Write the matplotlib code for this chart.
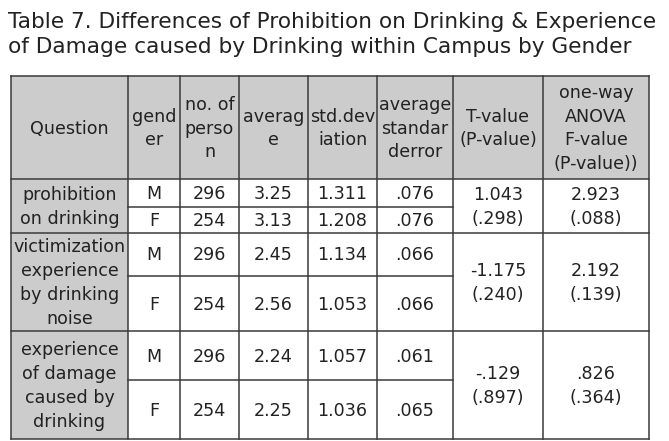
import matplotlib
matplotlib.use("Agg")
import matplotlib.pyplot as plt
from matplotlib.patches import Rectangle

# ---------------- data ----------------
title_lines = ["Table 7. Differences of Prohibition on Drinking & Experience",
               "of Damage caused by Drinking within Campus by Gender"]
headers = ["Question", "gend\ner", "no. of\nperso\nn", "averag\ne", "std.dev\niation",
           "average\nstandar\nderror", "T-value\n(P-value)", "one-way\nANOVA\nF-value\n(P-value))"]
questions = ["prohibition\non drinking",
             "victimization\nexperience\nby drinking\nnoise",
             "experience\nof damage\ncaused by\ndrinking"]
genders = ["M", "F"]
n_person = [["296", "254"], ["296", "254"], ["296", "254"]]
averages = [["3.25", "3.13"], ["2.45", "2.56"], ["2.24", "2.25"]]
std_devs = [["1.311", "1.208"], ["1.134", "1.053"], ["1.057", "1.036"]]
std_errors = [[".076", ".076"], [".066", ".066"], [".061", ".065"]]
t_values = ["1.043", "-1.175", "-.129"]
t_pvalues = [".298", ".240", ".897"]
f_values = ["2.923", "2.192", ".826"]
f_pvalues = [".088", ".139", ".364"]

# ---------------- layout (pixels) ----------------
W, H = 669, 441
col_x = [11, 128, 180, 239, 308, 377, 453, 543, 649]
y_top, y_head = 76, 179
group_y = [(179, 207, 233), (233, 276, 331), (331, 380, 439)]

FONT = ["DejaVu Sans"]
FS = 12.6
LS = 1.42
TXT = "#222222"
LINE = "#3a3a3a"
GRAY = "#cccccc"

fig = plt.figure(figsize=(W / 100, H / 100), dpi=100)
ax = fig.add_axes([0, 0, 1, 1])
ax.set_xlim(0, W)
ax.set_ylim(H, 0)
ax.axis("off")

# title
ax.text(8, 28, title_lines[0], fontsize=15.6, family=FONT, color=TXT, ha="left", va="baseline")
ax.text(8, 53, title_lines[1], fontsize=15.6, family=FONT, color=TXT, ha="left", va="baseline")

def cell_text(x0, x1, y0, y1, s):
    ax.text((x0 + x1) / 2, (y0 + y1) / 2 + 1, s, fontsize=FS, family=FONT, color=TXT,
            ha="center", va="center", linespacing=LS, multialignment="center")

# backgrounds
ax.add_patch(Rectangle((col_x[0], y_top), col_x[-1] - col_x[0], y_head - y_top,
                       facecolor=GRAY, edgecolor="none"))
ax.add_patch(Rectangle((col_x[0], y_head), col_x[1] - col_x[0], group_y[-1][2] - y_head,
                       facecolor=GRAY, edgecolor="none"))

# header
for i, h in enumerate(headers):
    cell_text(col_x[i], col_x[i + 1], y_top, y_head, h)

# body
for g, (ya, ym, yb) in enumerate(group_y):
    cell_text(col_x[0], col_x[1], ya, yb, questions[g])
    for r, (r0, r1) in enumerate([(ya, ym), (ym, yb)]):
        vals = [genders[r], n_person[g][r], averages[g][r], std_devs[g][r], std_errors[g][r]]
        for c, v in enumerate(vals):
            cell_text(col_x[c + 1], col_x[c + 2], r0, r1, v)
    cell_text(col_x[6], col_x[7], ya, yb, f"{t_values[g]}\n({t_pvalues[g]})")
    cell_text(col_x[7], col_x[8], ya, yb, f"{f_values[g]}\n({f_pvalues[g]})")

# lines
y_bot = group_y[-1][2]
lw = 1.1
for x in col_x:
    ax.plot([x, x], [y_top, y_bot], color=LINE, lw=lw, solid_capstyle="projecting")
for y in [y_top, y_head] + [g[2] for g in group_y]:
    ax.plot([col_x[0], col_x[-1]], [y, y], color=LINE, lw=lw, solid_capstyle="projecting")
for g in group_y:
    ax.plot([col_x[1], col_x[6]], [g[1], g[1]], color=LINE, lw=lw)

fig.savefig("out.png", dpi=100)
